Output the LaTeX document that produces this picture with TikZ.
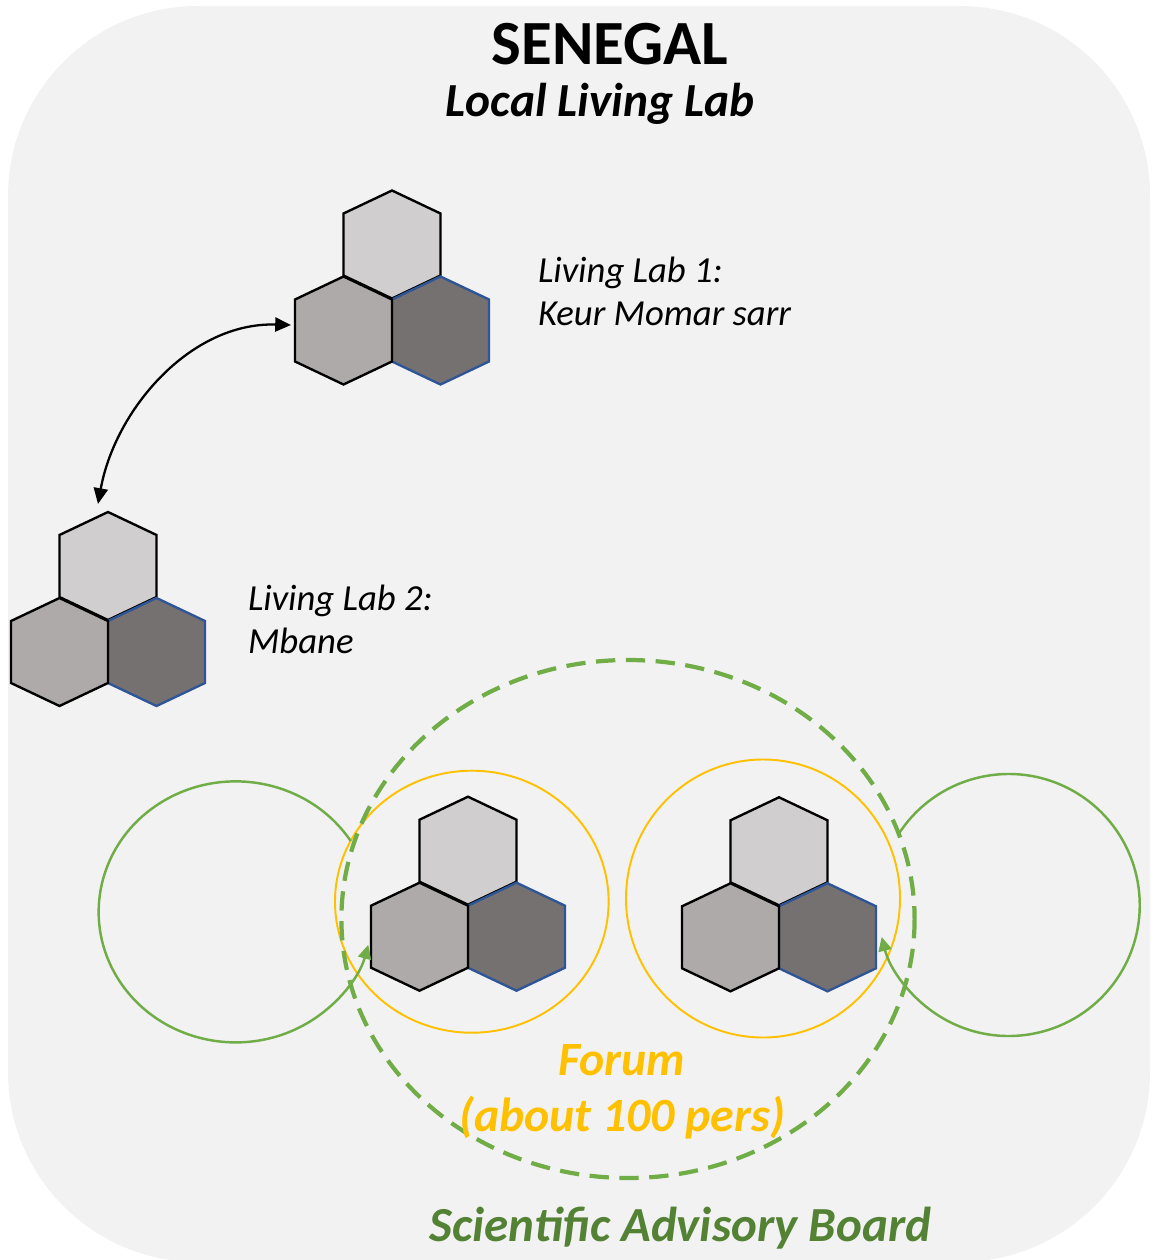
\documentclass[tikz,border=0pt]{standalone}
\usepackage{fontspec}
\setmainfont{Carlito}
\usetikzlibrary{arrows.meta}
\definecolor{bggray}{HTML}{F2F2F2}
\definecolor{hexlight}{HTML}{D0CECE}
\definecolor{hexmid}{HTML}{AEAAAA}
\definecolor{hexdark}{HTML}{767171}
\definecolor{hexblue}{HTML}{2F5597}
\definecolor{lgreen}{HTML}{70AD47}
\definecolor{dgreen}{HTML}{548235}
\definecolor{gold}{HTML}{FFC000}
\newcommand\hexpathx[2]{(#1,#2-54) -- (#1+48.5,#2-31) -- (#1+48.5,#2+31) -- (#1,#2+54) -- (#1-48.5,#2+31) -- (#1-48.5,#2-31) -- cycle}
\tikzset{
  hexline/.style={line width=1.35pt, draw=black, line join=miter},
  pics/cluster/.style={code={
    \path[hexline, fill=hexlight] \hexpathx{0}{0};
    \path[hexline, draw=hexblue, fill=hexdark] \hexpathx{48.5}{86};
    \path[hexline, fill=hexmid] \hexpathx{-48.5}{86};
    \coordinate (-top) at (-10,-62);
    \coordinate (-west) at (-101,80.5);
  }},
  blackarrow/.style={line width=1.3pt, {Triangle[length=9pt,width=8pt]}-{Triangle[length=9pt,width=8pt]}},
  greenloop/.style={line width=1.4pt, draw=lgreen, -{Triangle[length=8pt,width=7.5pt]}},
  goldring/.style={line width=1.1pt, draw=gold},
  sabring/.style={line width=2.4pt, draw=lgreen, dash pattern=on 11pt off 6pt},
  txt/.style={inner sep=0pt, outer sep=0pt},
}
\begin{document}
\begin{tikzpicture}[x=0.02cm, y=-0.02cm]
\useasboundingbox (0,0) rectangle (1152,1260);
\fill[bggray, rounded corners=3.8cm] (8,6) rectangle (1150,1262);

% hexagon clusters
\pic (c1) at (392,244.5) {cluster};
\pic (c2) at (108,566) {cluster};
\pic (c3) at (468,850.7) {cluster};
\pic (c4) at (779,851.3) {cluster};

% connector between the two living labs
\draw[blackarrow] (c2-top) .. controls (115,410) and (190,322) .. (c1-west);

% forum rings
\coordinate (ring1) at (471.8,901.7);
\coordinate (ring2) at (763,898.5);
\draw[goldring] (ring1) ellipse [x radius=136.8, y radius=131];
\draw[goldring] (ring2) ellipse [x radius=137, y radius=139];

% green loops
\coordinate (loopL) at (350.7,841);
\coordinate (loopR) at (898,835);
\draw[greenloop] (loopL) arc[start angle=-32.9, end angle=-345.4, x radius=137, y radius=130.5];
\draw[greenloop] (loopR) arc[start angle=212.3, end angle=525.9, x radius=131, y radius=131];

% scientific advisory board ring
\coordinate (sab) at (628,919);
\draw[sabring] (sab) ellipse [x radius=286.6, y radius=259];

% texts
\node[txt, anchor=base, font=\fontsize{35.8pt}{43pt}\selectfont\bfseries] (title) at (610,65) {SENEGAL};
\node[txt, anchor=base, font=\fontsize{27pt}{32pt}\selectfont\bfseries\itshape] (subtitle) at (600,117) {Local Living Lab};
\node[txt, anchor=base west, align=left, font=\fontsize{20.9pt}{24.4pt}\selectfont\itshape] (lab1) at (538,325) {Living Lab 1:\\Keur Momar sarr};
\node[txt, anchor=base west, align=left, font=\fontsize{20.9pt}{24.4pt}\selectfont\itshape] (lab2) at (248,653.3) {Living Lab 2:\\Mbane};
\node[txt, anchor=base, align=center, text=gold, font=\fontsize{27.2pt}{32.1pt}\selectfont\bfseries\itshape] (forum) at (622,1131.7) {Forum\\(about 100 pers)};
\node[txt, anchor=base, text=dgreen, font=\fontsize{27.9pt}{34pt}\selectfont\bfseries\itshape] (board) at (680.5,1241.7) {Scientific Advisory Board};
\end{tikzpicture}
\end{document}
